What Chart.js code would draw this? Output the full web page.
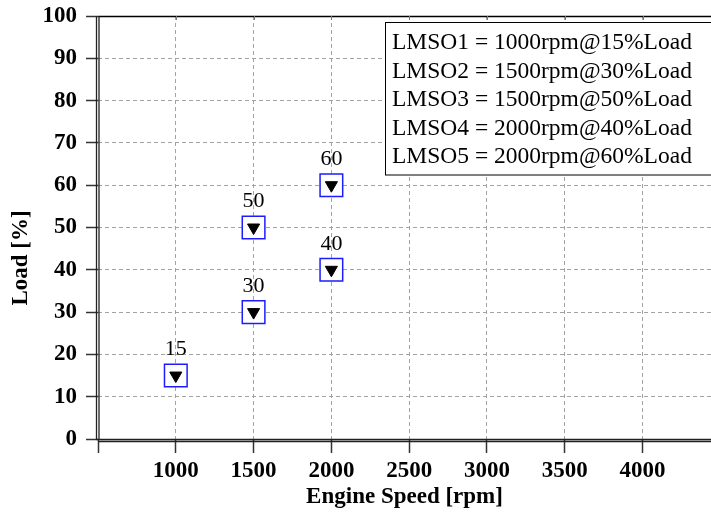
<!DOCTYPE html>
<html>
<head>
<meta charset="utf-8">
<title>Engine operating points</title>
<script src="https://cdn.jsdelivr.net/npm/chart.js@4.4.1/dist/chart.umd.min.js"></script>
<style>
  html, body { margin: 0; padding: 0; background: #fff; }
  #wrap { width: 711px; height: 512px; }
</style>
</head>
<body>
<div id="wrap"><canvas id="chart"></canvas></div>
<script>
// operating points (speed in rpm, load in %)
const pointNames = ["LMSO1", "LMSO2", "LMSO3", "LMSO4", "LMSO5"];
const speeds = [1000, 1500, 1500, 2000, 2000];
const loads = [15, 30, 50, 40, 60];

// axis ticks
const speedTicks = [500, 1000, 1500, 2000, 2500, 3000, 3500, 4000];
const loadTicks = [0, 10, 20, 30, 40, 50, 60, 70, 80, 90, 100];

const SERIF = "'Liberation Serif', 'Times New Roman', serif";
const points = speeds.map((s, i) => ({ x: s, y: loads[i] }));

// value labels, axis frame, y title and the text box
const decorations = {
  id: "decorations",
  beforeDraw(chart) {
    const ctx = chart.ctx;
    ctx.save();
    ctx.fillStyle = "#fff";
    ctx.fillRect(0, 0, chart.width, chart.height);
    ctx.restore();
  },
  afterDraw(chart) {
    const ctx = chart.ctx;
    const area = chart.chartArea;
    const xs = chart.scales.x;
    ctx.save();

    // top border + small ticks
    ctx.strokeStyle = "#000";
    ctx.lineWidth = 1.5;
    ctx.beginPath();
    ctx.moveTo(area.left, area.top + 0.5);
    ctx.lineTo(chart.width, area.top + 0.5);
    ctx.stroke();
    ctx.strokeStyle = "#777";
    ctx.lineWidth = 1;
    speedTicks.slice(1).forEach(v => {
      const px = Math.round(xs.getPixelForValue(v)) + 0.5;
      ctx.beginPath();
      ctx.moveTo(px, area.top);
      ctx.lineTo(px, area.top + 4);
      ctx.stroke();
    });

    // double axis lines
    ctx.strokeStyle = "#222";
    ctx.lineWidth = 1.3;
    ctx.beginPath();
    ctx.moveTo(area.left - 1.5, area.top);
    ctx.lineTo(area.left - 1.5, area.bottom + 1);
    ctx.moveTo(area.left + 1, area.top);
    ctx.lineTo(area.left + 1, area.bottom);
    ctx.moveTo(area.left - 1.5, area.bottom + 0.5);
    ctx.lineTo(chart.width, area.bottom + 0.5);
    ctx.moveTo(area.left, area.bottom + 2.5);
    ctx.lineTo(chart.width, area.bottom + 2.5);
    ctx.stroke();

    // value labels above the markers
    const meta = chart.getDatasetMeta(1);
    ctx.fillStyle = "#000";
    ctx.font = "22px " + SERIF;
    ctx.textAlign = "center";
    ctx.textBaseline = "middle";
    meta.data.forEach((pt, i) => {
      ctx.fillText(String(loads[i]), pt.x, pt.y - 26);
    });

    // y axis title
    ctx.save();
    ctx.translate(21, 258);
    ctx.rotate(-Math.PI / 2);
    ctx.font = "bold 23px " + SERIF;
    ctx.fillText("Load [%]", 0, 0);
    ctx.restore();

    // text box
    const bx = 385.5, by = 22.5, bh = 152.5;
    ctx.fillStyle = "#fff";
    ctx.fillRect(bx, by, chart.width - bx + 2, bh);
    ctx.strokeStyle = "#000";
    ctx.lineWidth = 1;
    ctx.strokeRect(bx, by, chart.width - bx + 5, bh);
    ctx.fillStyle = "#000";
    ctx.font = "23.5px " + SERIF;
    ctx.textAlign = "left";
    ctx.textBaseline = "alphabetic";
    pointNames.forEach((name, i) => {
      const line = name + " = " + speeds[i] + "rpm@" + loads[i] + "%Load";
      ctx.fillText(line, 392, 49 + i * 28.5);
    });

    ctx.restore();
  }
};

function gridColor(edgeValues) {
  return c => (c.tick && edgeValues.includes(c.tick.value)) ? "rgba(0,0,0,0)" : "#a3a3a3";
}

new Chart(document.getElementById("chart"), {
  type: "scatter",
  data: {
    datasets: [
      {
        label: "marker",
        data: points,
        pointStyle: "triangle",
        rotation: 180,
        pointRadius: 7,
        borderColor: "#000",
        backgroundColor: "#000",
        borderWidth: 1
      },
      {
        label: "box",
        data: points,
        pointStyle: "rect",
        pointRadius: 16,
        borderColor: "#1c1cff",
        backgroundColor: "#fff",
        borderWidth: 1.5
      }
    ]
  },
  options: {
    responsive: true,
    maintainAspectRatio: false,
    animation: false,
    events: [],
    layout: { autoPadding: false, padding: { top: 16, right: 0, left: 0, bottom: 0 } },
    plugins: {
      legend: { display: false },
      tooltip: { enabled: false }
    },
    scales: {
      x: {
        type: "linear",
        min: 500,
        max: 4440,
        afterBuildTicks: s => { s.ticks = speedTicks.map(v => ({ value: v })); },
        afterFit: s => { s.height = 73; s.paddingLeft = 0; s.paddingRight = 0; },
        ticks: {
          callback: v => (v === 500 ? "" : String(v)),
          font: { family: SERIF, size: 23, weight: "bold" },
          color: "#000",
          padding: 4,
          maxRotation: 0
        },
        grid: {
          color: gridColor([500]),
          lineWidth: 1,
          tickColor: "#333",
          tickLength: 14,
          tickWidth: 1.5,
          tickBorderDash: []
        },
        border: { display: false, dash: [4, 3] },
        title: {
          display: true,
          text: "Engine Speed [rpm]",
          font: { family: SERIF, size: 23, weight: "bold" },
          color: "#000",
          padding: { top: 0, bottom: 1 }
        }
      },
      y: {
        min: 0,
        max: 100,
        afterBuildTicks: s => { s.ticks = loadTicks.map(v => ({ value: v })); },
        afterFit: s => { s.width = 98; s.paddingTop = 0; s.paddingBottom = 0; },
        ticks: {
          callback: v => String(v),
          font: { family: SERIF, size: 23, weight: "bold" },
          color: "#000",
          padding: 9
        },
        grid: {
          color: gridColor([0, 100]),
          lineWidth: 1,
          tickColor: "#333",
          tickLength: 12,
          tickWidth: 1.5,
          tickBorderDash: []
        },
        border: { display: false, dash: [4, 3] }
      }
    }
  },
  plugins: [decorations]
});
</script>
</body>
</html>
